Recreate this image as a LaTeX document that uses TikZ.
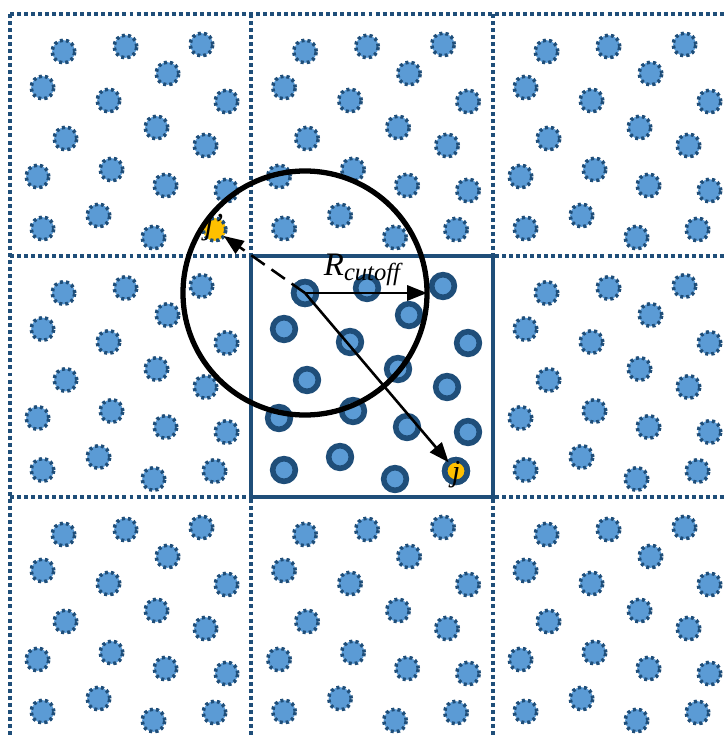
\documentclass[tikz,border=0pt]{standalone}
\usepackage{fontspec}
\setmainfont{Liberation Serif}
\usetikzlibrary{arrows.meta}
\definecolor{cellblue}{HTML}{1F4E79}
\definecolor{atomblue}{HTML}{5B9BD5}
\definecolor{atomgold}{HTML}{FFC000}
% atom positions in the central cell
\newcommand{\cellatoms}{305/293,367/288,443/286,284/329,409/315,350/342,468/343,307/380,398/369,447/387,279/418,353/411,407/427,468/432,284/470,340/457,395/479,456/471}
\begin{document}
\begin{tikzpicture}[x=0.03cm,y=-0.03cm,
  atom/.style={circle,inner sep=0pt,outer sep=0pt,minimum size=0.68cm,fill=atomblue,draw=cellblue,line width=4.8pt},
  ghost/.style={atom,line width=3pt,dash pattern=on 2.6pt off 2.6pt},
  cellline/.style={draw=cellblue,line width=3.6pt,dash pattern=on 3.4pt off 2.6pt},
  arrowline/.style={line width=2.2pt,-{Triangle[length=17pt,width=13pt]}},
  tag/.style={inner sep=0pt,font=\fontsize{26}{30}\selectfont\itshape}]
\useasboundingbox (0,0) rectangle (727,738);
% periodic grid
\foreach \gx in {10,251,493}
  \draw[cellline] (\gx,14) -- (\gx,738);
\foreach \gy in {14,256,497}
  \draw[cellline] (10,\gy) -- (727,\gy);
% periodic images
\foreach \sx/\sy in {-1/-1,0/-1,1/-1,-1/0,1/0,-1/1,0/1,1/1}
  \foreach \ax/\ay in \cellatoms
    \node[ghost] at ({\ax+241.5*\sx},{\ay+241.5*\sy}) {};
\node[ghost,fill=atomgold] (jp) at (214.5,229.5) {};
% central cell
\draw[cellblue,line width=4.2pt] (251,256) rectangle (493,497);
\foreach \ax/\ay in \cellatoms
  \node[atom] at (\ax,\ay) {};
\node[atom] (i) at (305,293) {};
\node[atom,fill=atomgold] (j) at (456,471) {};
% cutoff sphere
\node[circle,draw,line width=4.5pt,inner sep=0pt,outer sep=0pt,minimum size=7.32cm] (rcut) at (i.center) {};
\draw[arrowline] (i.center) -- (rcut.east);
\draw[arrowline] (i.center) -- (j);
\draw[arrowline,dash pattern=on 14pt off 7pt] (i.center) -- (jp);
\node[tag,font=\fontsize{28}{32}\selectfont\itshape] (rlab) at (362,270) {R\raisebox{-0.3ex}{\fontsize{21}{24}\selectfont cutoff}};
\node[tag] (jlab) at (456,475) {j};
\node[tag] (jplab) at (214,228) {j'};
\end{tikzpicture}
\end{document}
